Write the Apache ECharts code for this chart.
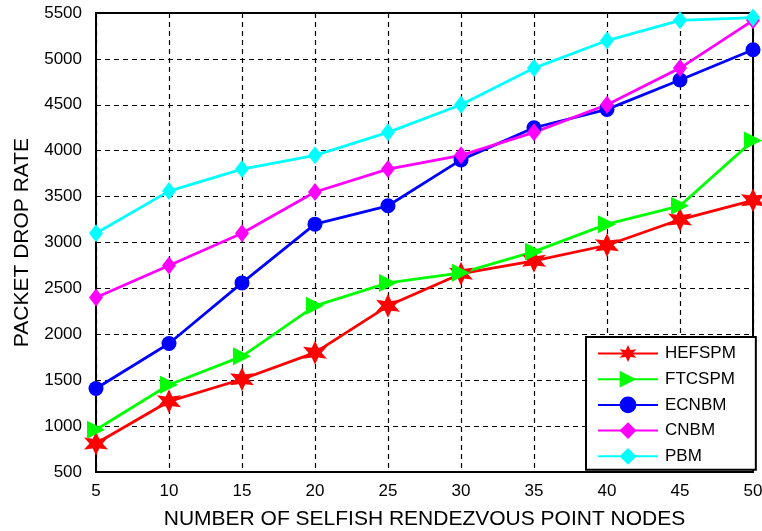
<!DOCTYPE html>
<html>
<head>
<meta charset="utf-8">
<script src="https://cdn.jsdelivr.net/npm/echarts@6/dist/echarts.min.js"></script>
<style>
  html, body { margin: 0; padding: 0; background: #fff; }
  #chart { width: 762px; height: 531px; }
</style>
</head>
<body>
<div id="chart"></div>
<script>
// Number of selfish rendezvous point nodes
const nodes = [5, 10, 15, 20, 25, 30, 35, 40, 45, 50];

// Packet drop rate per scheme
const hefspm = [810, 1270, 1510, 1800, 2310, 2660, 2800, 2970, 3250, 3460];
const ftcspm = [960, 1450, 1760, 2310, 2560, 2670, 2900, 3200, 3400, 4110];
const ecnbm  = [1410, 1900, 2560, 3200, 3400, 3900, 4250, 4450, 4770, 5100];
const cnbm   = [2400, 2750, 3100, 3550, 3800, 3950, 4200, 4500, 4900, 5420];
const pbm    = [3100, 3560, 3800, 3950, 4200, 4500, 4900, 5200, 5420, 5450];

const FONT = '"Liberation Sans", Arial, sans-serif';
const STAR = 'path://M0,-11 L2.6,-4.5 L9.5,-5.5 L5.2,0 L9.5,5.5 L2.6,4.5 L0,11 L-2.6,4.5 L-9.5,5.5 L-5.2,0 L-9.5,-5.5 L-2.6,-4.5 Z';

function makeSeries(name, data, color, symbol, size, rotate) {
  return {
    name: name,
    type: 'line',
    data: nodes.map((x, i) => [x, data[i]]),
    symbol: symbol,
    symbolSize: size,
    symbolRotate: rotate || 0,
    lineStyle: { color: color, width: 2.8 },
    itemStyle: { color: color },
    z: 3
  };
}

const chart = echarts.init(document.getElementById('chart'), null, { renderer: 'canvas' });
chart.setOption({
  animation: false,
  backgroundColor: '#fff',
  grid: { left: 96, right: 9, top: 13, bottom: 59, containLabel: false, outerBoundsMode: 'none' },
  xAxis: {
    type: 'value',
    min: 5, max: 50, interval: 5,
    name: 'NUMBER OF SELFISH RENDEZVOUS POINT NODES',
    nameLocation: 'middle',
    nameGap: 37,
    nameTextStyle: { fontFamily: FONT, fontSize: 21, color: '#000' },
    axisLine: { show: true, onZero: false, lineStyle: { color: '#000', width: 2 } },
    axisTick: { show: false },
    axisLabel: { fontFamily: FONT, fontSize: 17, color: '#000', margin: 11, formatter: v => String(v) },
    splitLine: { show: true, lineStyle: { color: '#000', type: [5, 4], width: 1.2 } }
  },
  yAxis: {
    type: 'value',
    min: 500, max: 5500, interval: 500,
    name: 'PACKET DROP RATE',
    nameLocation: 'middle',
    nameGap: 63,
    nameTextStyle: { fontFamily: FONT, fontSize: 21, color: '#000' },
    axisLine: { show: true, onZero: false, lineStyle: { color: '#000', width: 2 } },
    axisTick: { show: false },
    axisLabel: { fontFamily: FONT, fontSize: 17, color: '#000', margin: 14, formatter: v => String(v) },
    splitLine: { show: true, lineStyle: { color: '#000', type: [5, 4], width: 1.2 } }
  },
  legend: {
    orient: 'vertical',
    left: 586,
    top: 337,
    padding: [8, 20, 5, 11],
    itemWidth: 60,
    itemHeight: 21,
    itemGap: 8.7,
    backgroundColor: '#fff',
    borderColor: '#000',
    borderWidth: 2,
    borderRadius: 0,
    textStyle: { fontFamily: FONT, fontSize: 17, color: '#000', padding: [0, 0, 0, 2] },
    data: ['HEFSPM', 'FTCSPM', 'ECNBM', 'CNBM', 'PBM']
  },
  graphic: [{
    type: 'rect',
    shape: { x: 96, y: 13, width: 657, height: 459 },
    style: { fill: 'none', stroke: '#000', lineWidth: 2 },
    z: 1,
    silent: true
  }],
  series: [
    makeSeries('HEFSPM', hefspm, '#ff0000', STAR, 24),
    makeSeries('FTCSPM', ftcspm, '#00ff00', 'triangle', 18, -90),
    makeSeries('ECNBM', ecnbm, '#0000ff', 'circle', 15),
    makeSeries('CNBM', cnbm, '#ff00ff', 'diamond', [14, 18]),
    makeSeries('PBM', pbm, '#00ffff', 'diamond', [14, 18])
  ]
});
</script>
</body>
</html>
